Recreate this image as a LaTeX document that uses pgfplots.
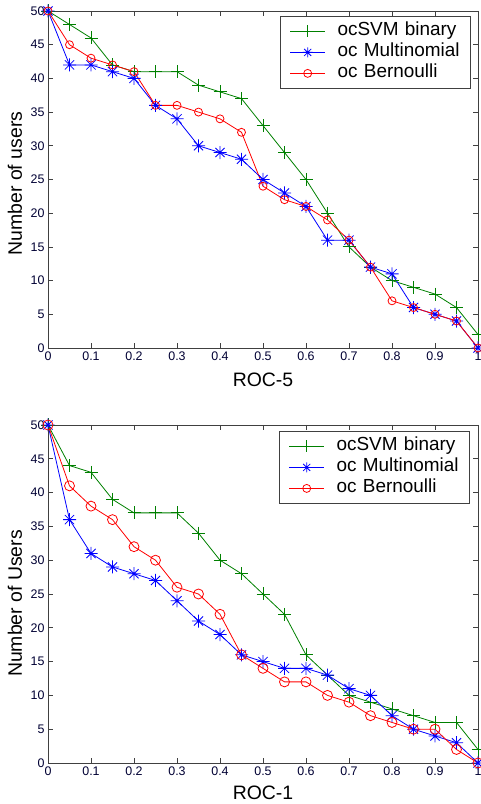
\documentclass[border=0pt]{standalone}
\usepackage{fontspec}
\setmainfont{Liberation Sans}
\usepackage{pgfplots}
\pgfplotsset{compat=1.18}
\definecolor{mgreen}{rgb}{0,0.5,0}
\definecolor{mblue}{rgb}{0,0,1}
\definecolor{mred}{rgb}{1,0,0}
\pgfdeclareplotmark{mstar}{%
  \pgfpathmoveto{\pgfqpoint{-\pgfplotmarksize}{0pt}}\pgfpathlineto{\pgfqpoint{\pgfplotmarksize}{0pt}}%
  \pgfpathmoveto{\pgfqpoint{0pt}{-\pgfplotmarksize}}\pgfpathlineto{\pgfqpoint{0pt}{\pgfplotmarksize}}%
  \pgfpathmoveto{\pgfqpoint{-0.707\pgfplotmarksize}{-0.707\pgfplotmarksize}}\pgfpathlineto{\pgfqpoint{0.707\pgfplotmarksize}{0.707\pgfplotmarksize}}%
  \pgfpathmoveto{\pgfqpoint{-0.707\pgfplotmarksize}{0.707\pgfplotmarksize}}\pgfpathlineto{\pgfqpoint{0.707\pgfplotmarksize}{-0.707\pgfplotmarksize}}%
  \pgfusepathqstroke}
\pgfplotsset{
  rocstyle/.style={
    scale only axis, width=430bp, height=337bp,
    xmin=0, xmax=1, ymin=0, ymax=50,
    xtick={0,0.1,...,1.01}, ytick={0,5,...,50},
    tick align=inside, major tick length=5bp,
    axis line style={black!75, line width=0.8bp},
    every tick/.style={black!75, line width=0.6bp},
    /pgf/number format/assume math mode=true,
    xticklabel style={/pgf/number format/fixed, /pgf/number format/precision=1, font=\fontsize{12.5}{14}\selectfont, text=black!80!blue},
    yticklabel style={font=\fontsize{12.5}{14}\selectfont, text=black!80!blue},
    label style={font=\fontsize{19.5}{22}\selectfont},
    legend style={anchor=north east, draw=black!75, line width=0.8bp,
      font=\fontsize{19}{21}\selectfont, row sep=4bp, inner xsep=9bp, inner ysep=6.5bp,
      nodes={inner xsep=0bp, inner ysep=0bp, text height=13bp, text depth=4bp, text width=124bp, align=left},
      /tikz/every odd column/.style={column sep=12bp}},
    legend cell align=left,
    legend image code/.code={\draw[mark=none] (0bp,0bp)--(35bp,0bp); \draw[mark repeat=2,mark phase=2] plot coordinates {(0bp,0bp) (17.5bp,0bp) (35bp,0bp)};},
  },
  gline/.style={color=mgreen, line width=0.8bp, mark=+, mark size=6.5bp, legend image post style={mark size=6bp}},
  bline/.style={color=mblue, line width=0.8bp, mark=mstar, mark size=6.5bp, legend image post style={mark size=5bp}},
  rline/.style={color=mred, line width=0.8bp, mark=o, legend image post style={mark size=4bp}},
}
\begin{document}
\begin{tikzpicture}
\useasboundingbox (0,0) rectangle (481bp,804bp);
\begin{axis}[rocstyle, at={(48bp,456bp)}, anchor=south west,
  xlabel={ROC-5}, ylabel={Number of users},
  xlabel style={at={(axis description cs:0.5,-0.095)}, anchor=center},
  ylabel style={at={(axis description cs:-0.077,0.488)}, anchor=center},
  legend style={at={(axis description cs:0.9837,0.9852)}},
]
\addplot[gline] coordinates {(0,50) (0.05,48) (0.1,46) (0.15,42) (0.2,41) (0.25,41) (0.3,41) (0.35,39) (0.4,38) (0.45,37) (0.5,33) (0.55,29) (0.6,25) (0.65,20) (0.7,15) (0.75,12) (0.8,10) (0.85,9) (0.9,8) (0.95,6) (1,2)};
\addlegendentry{ocSVM binary}
\addplot[bline] coordinates {(0,50) (0.05,42) (0.1,42) (0.15,41) (0.2,40) (0.25,36) (0.3,34) (0.35,30) (0.4,29) (0.45,28) (0.5,25) (0.55,23) (0.6,21) (0.65,16) (0.7,16) (0.75,12) (0.8,11) (0.85,6) (0.9,5) (0.95,4) (1,0)};
\addlegendentry{oc Multinomial}
\addplot[rline, mark size=4bp] coordinates {(0,50) (0.05,45) (0.1,43) (0.15,42) (0.2,41) (0.25,36) (0.3,36) (0.35,35) (0.4,34) (0.45,32) (0.5,24) (0.55,22) (0.6,21) (0.65,19) (0.7,16) (0.75,12) (0.8,7) (0.85,6) (0.9,5) (0.95,4) (1,0)};
\addlegendentry{oc Bernoulli}
\end{axis}
\begin{axis}[rocstyle, height=338bp, at={(48bp,41bp)}, anchor=south west,
  xlabel={ROC-1}, ylabel={Number of Users},
  xlabel style={at={(axis description cs:0.5,-0.089)}, anchor=center},
  ylabel style={at={(axis description cs:-0.077,0.472)}, anchor=center},
  legend style={at={(axis description cs:0.9814,0.9822)}},
]
\addplot[gline] coordinates {(0,50) (0.05,44) (0.1,43) (0.15,39) (0.2,37) (0.25,37) (0.3,37) (0.35,34) (0.4,30) (0.45,28) (0.5,25) (0.55,22) (0.6,16) (0.65,13) (0.7,10) (0.75,9) (0.8,8) (0.85,7) (0.9,6) (0.95,6) (1,2)};
\addlegendentry{ocSVM binary}
\addplot[bline] coordinates {(0,50) (0.05,36) (0.1,31) (0.15,29) (0.2,28) (0.25,27) (0.3,24) (0.35,21) (0.4,19) (0.45,16) (0.5,15) (0.55,14) (0.6,14) (0.65,13) (0.7,11) (0.75,10) (0.8,7) (0.85,5) (0.9,4) (0.95,3) (1,0)};
\addlegendentry{oc Multinomial}
\addplot[rline, mark size=5bp] coordinates {(0,50) (0.05,41) (0.1,38) (0.15,36) (0.2,32) (0.25,30) (0.3,26) (0.35,25) (0.4,22) (0.45,16) (0.5,14) (0.55,12) (0.6,12) (0.65,10) (0.7,9) (0.75,7) (0.8,6) (0.85,5) (0.9,5) (0.95,2) (1,0)};
\addlegendentry{oc Bernoulli}
\end{axis}
\end{tikzpicture}
\end{document}
